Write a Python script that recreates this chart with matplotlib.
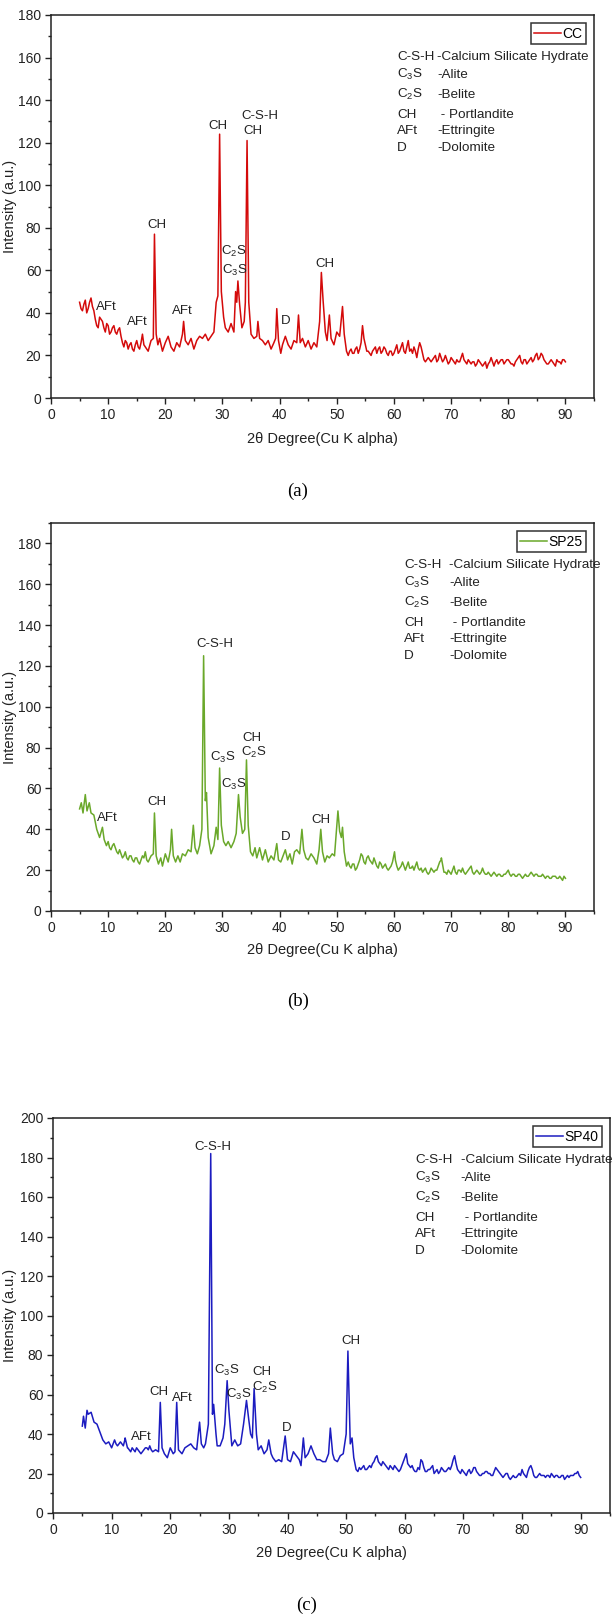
import numpy as np
import matplotlib
matplotlib.use("Agg")
import matplotlib.pyplot as plt
from matplotlib.ticker import MultipleLocator

plt.rcParams['font.family'] = ['Liberation Sans', 'DejaVu Sans']
plt.rcParams['mathtext.fontset'] = 'custom'
plt.rcParams['mathtext.rm'] = 'Liberation Sans'

# ---- data ----
cc_theta = [5, 5.5, 6, 6.5, 7, 7.5, 8, 8.5, 9, 9.5,
            10, 10.5, 11, 11.5, 12, 12.5, 13, 13.5, 14, 14.5,
            15, 15.5, 16, 16.5, 17, 17.5, 17.9, 18.1, 18.4, 18.7,
            19, 19.5, 20, 20.5, 21, 21.5, 22, 22.5, 23, 23.2, 23.5,
            24, 24.5, 25, 25.5, 26, 26.5, 27, 27.5, 28, 28.5, 28.9, 29.2, 29.5, 29.8, 30.2,
            30.5, 31, 31.5, 32, 32.3, 32.5, 32.7, 33, 33.4, 33.8, 34.0, 34.3, 34.6, 35,
            35.5, 36, 36.2, 36.5, 37, 37.5, 38, 38.5, 39, 39.3, 39.5, 39.8, 40.2, 40.5,
            41, 41.5, 42, 42.5, 43, 43.3, 43.6, 44, 44.5, 45, 45.5, 46, 46.5, 47, 47.3, 47.6, 48,
            48.3, 48.7, 49, 49.5, 50, 50.5, 51, 51.3, 51.7, 52, 52.5,
            53, 53.5, 54, 54.5, 55, 55.5, 56, 56.5, 57, 57.5, 58, 58.5, 59, 59.5, 60,
            60.5, 61, 61.5, 62, 62.5, 63, 63.5, 64, 64.5, 65, 65.5, 66,
            66.5, 67, 67.5, 68, 68.5, 69, 69.5, 70, 70.5, 71, 71.5, 72, 72.5, 73, 73.5, 74, 74.5, 75,
            75.5, 76, 76.5, 77, 77.5, 78, 78.5, 79, 79.5, 80, 80.5, 81, 81.5, 82, 82.5,
            83, 83.5, 84, 84.5, 85, 85.5, 86, 86.5, 87, 87.5, 88, 88.5, 89, 89.5, 90]
cc_int = [45, 41, 46, 42, 47, 41, 34, 38, 36, 31,
          34, 31, 34, 30, 33, 26, 27, 23, 26, 22,
          27, 23, 30, 24, 22, 27, 28, 77, 30, 25,
          28, 22, 26, 29, 24, 22, 26, 24, 30, 36, 27,
          25, 28, 23, 27, 29, 28, 30, 27, 29, 31, 45, 48, 124, 50, 38,
          33, 31, 35, 31, 50, 45, 55, 44, 33, 36, 45, 121, 45, 30,
          28, 29, 36, 28, 27, 25, 27, 23, 26, 28, 42, 27, 21, 25,
          29, 25, 23, 27, 26, 39, 26, 28, 24, 27, 23, 26, 24, 36, 59, 46, 31,
          27, 39, 28, 25, 31, 29, 43, 30, 22, 20, 23,
          21, 24, 23, 34, 25, 22, 20, 23, 21, 24, 22, 23, 20, 22, 21,
          25, 22, 26, 21, 27, 23, 24, 19, 26, 21, 17, 19,
          17, 19, 17, 21, 17, 20, 16, 19, 17, 18, 17, 21, 17, 18, 16, 17, 16, 17,
          15, 17, 16, 19, 15, 18, 17, 18, 17, 18, 16, 15, 18, 20, 16,
          18, 17, 19, 18, 21, 19, 20, 17, 16, 18, 16, 18, 17, 18, 17]
# in-between noise readings (quarter-degree samples) on the flat parts
cc_noise_lo = [42, 44, 40, 45, 43, 37, 33, 37, 33, 35,
               30, 33, 31, 32, 29, 24, 26, 25, 23, 25,
               24, 26, 25, 23]
cc_noise_hi = [22, 21, 23, 21, 26, 28, 22, 21, 22, 24,
               23, 21, 24, 21, 22, 20, 23, 21, 24, 22,
               24, 22, 21, 22, 23, 24, 18, 18, 18, 18,
               20, 18, 19, 18, 18, 17, 18, 16, 17, 19,
               18, 16, 17, 17, 15, 18, 16, 16, 14, 17,
               17, 17, 16, 18, 16, 18, 17, 16, 17, 19,
               17, 18, 16, 18, 17, 20, 18, 21, 18, 16,
               17, 17, 15, 17, 16, 18]

sp25_theta = [5, 5.3, 5.6, 6, 6.3, 6.7, 7, 7.5, 8, 8.5, 9, 9.3, 9.7,
              10, 10.5, 11, 11.5, 12, 12.5, 13, 13.5, 14, 14.5,
              15, 15.5, 16, 16.5, 17, 17.5, 17.9, 18.1, 18.4, 18.8, 19.2, 19.5,
              20, 20.5, 20.9, 21.1, 21.4, 21.8, 22.2, 22.6, 23, 23.5, 24, 24.5, 24.9,
              25.2, 25.6, 26, 26.4, 26.7, 27.0, 27.2, 27.5, 28, 28.5, 28.9, 29.2, 29.5, 29.8,
              30.2, 30.6, 31, 31.5, 32, 32.4, 32.8, 33.1, 33.5, 33.9, 34.2, 34.5, 34.9,
              35.3, 35.7, 36, 36.5, 37, 37.5, 38, 38.5, 39, 39.5, 39.8,
              40.2, 40.6, 41, 41.4, 41.8, 42.2, 42.6, 43, 43.5, 43.9, 44.2, 44.6,
              45, 45.5, 46, 46.5, 46.9, 47.2, 47.5, 47.9, 48.3, 48.7, 49.2, 49.6, 49.9,
              50.2, 50.5, 50.8, 51, 51.3, 51.7, 52, 52.5, 53, 53.5, 54, 54.5,
              55, 55.5, 56, 56.5, 57, 57.5, 58, 58.5, 59, 59.5,
              60.1, 60.5, 61, 61.5, 62, 62.5, 63, 63.5, 64, 64.5,
              65, 65.5, 66, 66.5, 67, 67.5, 68, 68.3, 68.7, 69, 69.5,
              70, 70.5, 71, 71.5, 72, 72.5, 73, 73.5, 74, 74.5,
              75, 75.5, 76, 76.5, 77, 77.5, 78, 78.5, 79, 79.5,
              80, 80.5, 81, 81.5, 82, 82.5, 83, 83.5, 84, 84.5,
              85, 85.5, 86, 86.5, 87, 87.5, 88, 88.5, 89, 89.5, 90]
sp25_int = [50, 53, 48, 57, 49, 53, 48, 47, 40, 36, 41, 35, 32,
            34, 30, 33, 29, 30, 26, 29, 25, 27, 24,
            26, 23, 27, 29, 24, 27, 28, 48, 27, 23, 26, 22,
            28, 24, 30, 40, 27, 24, 27, 24, 28, 27, 30, 29, 42,
            31, 28, 32, 40, 125, 54, 58, 36, 28, 32, 41, 35, 70, 42,
            34, 32, 34, 31, 34, 38, 57, 46, 38, 40, 74, 42, 29,
            27, 31, 26, 31, 25, 30, 24, 27, 25, 33, 25,
            24, 27, 30, 25, 28, 23, 29, 30, 28, 40, 30, 26,
            25, 28, 26, 23, 30, 40, 29, 24, 27, 26, 28, 27, 38,
            49, 39, 36, 41, 29, 22, 24, 21, 23, 21, 25, 27,
            23, 27, 24, 26, 22, 24, 21, 23, 20, 22,
            29, 22, 21, 24, 20, 24, 21, 20, 24, 20,
            19, 21, 18, 21, 19, 20, 24, 26, 20, 19, 20,
            18, 22, 18, 20, 21, 18, 20, 22, 18, 20,
            18, 21, 18, 19, 17, 19, 17, 18, 17, 18,
            20, 17, 18, 17, 18, 16, 18, 17, 19, 17,
            18, 17, 18, 16, 17, 16, 17, 16, 17, 15, 16]
sp25_noise_lo = [31, 32, 31, 28, 28, 27, 26, 27, 25, 26,
                 24, 25, 26, 25]
sp25_noise_hi = [22, 23, 20, 23, 28, 24, 26, 25, 23, 24,
                 21, 23, 22, 21, 21, 24, 25, 20, 22, 22,
                 22, 21, 22, 22, 21, 21, 20, 19, 19, 20,
                 20, 22, 25, 19, 18, 19, 20, 19, 20, 19,
                 19, 19, 21, 19, 19, 19, 19, 19, 18, 18,
                 18, 18, 18, 17, 18, 19, 18, 18, 17, 18,
                 17, 17, 17, 18, 18, 18, 17, 17, 17, 17,
                 16, 17, 17, 16, 16, 17]

sp40_theta = [5, 5.2, 5.5, 5.8, 6, 6.5, 7, 7.5, 8, 8.5, 9, 9.5,
              10, 10.5, 11, 11.5, 12, 12.3, 12.7, 13, 13.5, 14, 14.5,
              15, 15.5, 16, 16.5, 17, 17.5, 18.0, 18.3, 18.6, 19, 19.5,
              20, 20.5, 20.8, 21.1, 21.4, 22, 22.5, 23, 23.5, 24, 24.5,
              25, 25.3, 25.7, 26, 26.5, 26.9, 27.2, 27.4, 27.8, 28, 28.5, 29, 29.3, 29.7,
              30, 30.5, 31, 31.5, 32, 32.5, 33, 33.4, 33.7, 34, 34.3, 34.7,
              35, 35.5, 36, 36.5, 36.8, 37.2, 37.5, 38, 38.5, 39, 39.6,
              40, 40.5, 41, 41.5, 42, 42.3, 42.7, 43, 43.5, 44, 44.5,
              45, 45.5, 46, 46.5, 47, 47.3, 47.7, 48, 48.5, 49, 49.5,
              50.0, 50.3, 50.7, 51, 51.3, 51.7, 52, 52.5, 53, 53.5, 54, 54.5,
              55, 55.5, 56, 56.5, 57, 57.5, 58, 58.5, 59, 59.5,
              60, 60.5, 61, 61.5, 62, 62.5, 63, 63.5, 64, 64.5,
              65, 65.5, 66, 66.5, 67, 67.5, 68, 68.5, 69, 69.5,
              70, 70.5, 71, 71.5, 72, 72.5, 73, 73.5, 74, 74.5,
              75, 75.5, 76, 76.5, 77, 77.5, 78, 78.5, 79, 79.5,
              80, 80.5, 81, 81.5, 82, 82.5, 83, 83.5, 84, 84.5,
              85, 85.5, 86, 86.5, 87, 87.5, 88, 88.5, 89, 89.5, 90]
sp40_int = [44, 49, 43, 52, 50, 51, 46, 45, 41, 37, 35, 36,
            33, 37, 34, 36, 34, 38, 33, 32, 33, 31, 32,
            30, 32, 33, 34, 31, 32, 31, 56, 33, 30, 28,
            33, 30, 31, 56, 32, 30, 33, 34, 35, 33, 32,
            46, 35, 33, 35, 45, 182, 50, 55, 40, 34, 34, 38, 45, 67,
            52, 34, 37, 34, 35, 45, 57, 47, 40, 38, 63, 40,
            32, 34, 30, 32, 37, 30, 28, 26, 27, 26, 39,
            27, 26, 31, 29, 27, 24, 38, 28, 30, 34, 30,
            27, 27, 26, 26, 30, 43, 30, 27, 26, 29, 30,
            40, 82, 35, 38, 28, 22, 21, 22, 24, 22, 24, 25,
            28, 26, 24, 25, 23, 24, 22, 23, 21, 24,
            28, 25, 23, 22, 21, 22, 26, 21, 22, 23,
            20, 22, 21, 22, 21, 23, 24, 29, 22, 20,
            21, 19, 22, 21, 23, 20, 19, 20, 21, 20,
            19, 23, 21, 19, 19, 20, 17, 19, 18, 20,
            22, 19, 21, 24, 19, 18, 20, 19, 18, 19,
            20, 18, 19, 18, 19, 18, 18, 19, 20, 21, 18]
sp40_noise_lo = [35, 35, 35, 35, 37, 33, 31, 32, 33, 31,
                 31, 33, 32, 32]
sp40_noise_hi = [23, 23, 22, 23, 23, 26, 29, 25, 26, 24,
                 22, 23, 24, 22, 22, 26, 30, 24, 24, 21,
                 23, 27, 23, 21, 22, 24, 21, 20, 23, 21,
                 22, 22, 27, 25, 21, 22, 20, 21, 20, 23,
                 21, 19, 20, 21, 20, 19, 21, 22, 20, 18,
                 20, 18, 18, 18, 19, 19, 20, 18, 23, 22,
                 18, 19, 19, 19, 19, 18, 19, 19, 18, 19,
                 17, 19, 19, 19, 20, 19]

key_abbr = ['C-S-H', r'C$_\mathregular{3}$S', r'C$_\mathregular{2}$S', 'CH', 'AFt', 'D']
key_desc = ['-Calcium Silicate Hydrate', '-Alite', '-Belite', ' - Portlandite', '-Ettringite', '-Dolomite']

C3S = r'C$_\mathregular{3}$S'
C2S = r'C$_\mathregular{2}$S'
cc_labels = [('AFt', 9.7, 43), ('AFt', 15.1, 35.5), ('CH', 18.5, 81.5), ('AFt', 22.9, 41),
             ('CH', 29.2, 128), ('C-S-H', 36.6, 132.5), ('CH', 35.3, 125.5),
             (C2S, 32.0, 69), (C3S, 32.2, 60), ('D', 41.1, 36), ('CH', 48.0, 63)]
sp25_labels = [('AFt', 9.9, 45.3), ('CH', 18.5, 53.6), ('C-S-H', 28.6, 130.8), (C3S, 30.0, 75.2),
               (C3S, 32.0, 62), ('CH', 35.2, 84.5), (C2S, 35.5, 77.4), ('D', 41.1, 36.2),
               ('CH', 47.2, 44.8)]
sp40_labels = [('AFt', 15.0, 38.5), ('CH', 18.1, 61.4), ('AFt', 22.1, 58), ('C-S-H', 27.2, 185.3),
               (C3S, 29.7, 72.3), (C3S, 31.7, 59.9), ('CH', 35.6, 71.4), (C2S, 36.1, 63.7),
               ('D', 39.9, 43.2), ('CH', 50.9, 87.3)]


def merge(theta, inten, lo_start, lo, hi):
    # main readings plus the quarter-degree noise readings, put in 2theta order
    x = np.concatenate([theta, lo_start + 0.5 * np.arange(len(lo)), 52.25 + 0.5 * np.arange(len(hi))])
    y = np.concatenate([inten, lo, hi])
    o = np.argsort(x, kind='stable')
    return x[o], y[o]


W, H = 614, 1621
INK = '#222222'
fig = plt.figure(figsize=(W / 100, H / 100), dpi=100)


def panel(box, theta, inten, color, name, ymax, labels, key_x, tag, xlab_y, tag_y):
    l, t, r, b = box
    ax = fig.add_axes([l / W, 1 - b / H, (r - l) / W, (b - t) / H])
    ax.plot(theta, inten, color=color, lw=1.1, label=name)
    ax.set_xlim(0, 95)
    ax.set_ylim(0, ymax)
    ax.xaxis.set_minor_locator(MultipleLocator(5))
    ax.yaxis.set_major_locator(MultipleLocator(20))
    ax.yaxis.set_minor_locator(MultipleLocator(10))
    ax.set_xticks(np.arange(0, 91, 10))
    ax.tick_params(which='major', length=4, width=1, labelsize=10, colors=INK, pad=3)
    ax.tick_params(which='minor', length=2.5, width=1, colors=INK)
    for s in ax.spines.values():
        s.set_linewidth(1.1)
        s.set_color(INK)
    ax.set_ylabel('Intensity (a.u.)', fontsize=10.5, color=INK)
    ax.yaxis.set_label_coords((17 - l) / (r - l), 0.5)
    for txt, x, y in labels:
        ax.text(x, y, txt, ha='center', va='center', fontsize=9.5, color=INK)
    leg = ax.legend(loc='upper right', fancybox=False, edgecolor='#333333', fontsize=10,
                    handlelength=1.9, handletextpad=0.1, borderpad=0.25, borderaxespad=0.6,
                    framealpha=1)
    leg.get_frame().set_linewidth(1.1)
    ka, kd = key_x
    hgt = b - t
    for a, d, off in zip(key_abbr, key_desc, [45, 63, 83, 103, 119, 136]):
        yy = 1 - off / hgt
        ax.text(ka, yy, a, transform=ax.transAxes, fontsize=9.7, va='baseline', color=INK)
        ax.text(kd, yy, d, transform=ax.transAxes, fontsize=9.7, va='baseline', color=INK)
    cx = (l + r) / 2 / W
    fig.text(cx, 1 - xlab_y / H, '2θ Degree(Cu K alpha)', ha='center', va='center',
             fontsize=10.5, color=INK)
    fig.text(cx - 0.04, 1 - tag_y / H, tag, ha='center', va='center', fontsize=13.5,
             family='Liberation Serif')
    return ax


x, y = merge(cc_theta, cc_int, 5.25, cc_noise_lo, cc_noise_hi)
panel((51, 15, 594, 398), x, y, '#d40a0a', 'CC', 180, cc_labels,
      (0.637, 0.711), '(a)', 439, 491)
x, y = merge(sp25_theta, sp25_int, 10.25, sp25_noise_lo, sp25_noise_hi)
panel((51, 523, 594, 911), x, y, '#6aa82a', 'SP25', 190, sp25_labels,
      (0.650, 0.733), '(b)', 950, 1001)
x, y = merge(sp40_theta, sp40_int, 10.25, sp40_noise_lo, sp40_noise_hi)
panel((53, 1118, 610, 1513), x, y, '#1c1cc0', 'SP40', 200, sp40_labels,
      (0.650, 0.732), '(c)', 1553, 1605)

fig.savefig('out.png', dpi=100)
